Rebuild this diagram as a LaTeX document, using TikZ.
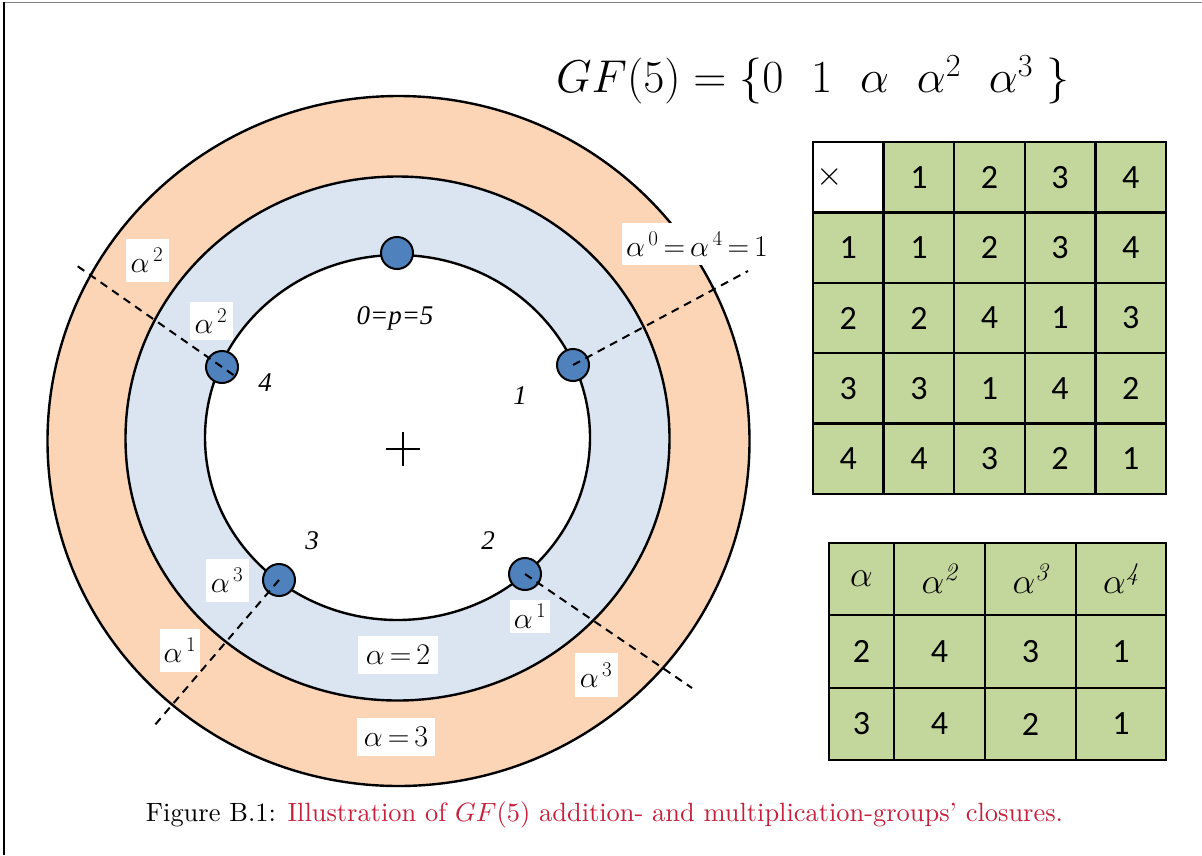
\RequirePackage{fix-cm}
\documentclass[tikz,border=0pt]{standalone}
\usepackage{fontspec}
\newfontfamily\timesfont{Liberation Serif}
\newfontfamily\tabfont{Carlito}
\usetikzlibrary{calc}
\definecolor{ringO}{HTML}{FBD5B5}
\definecolor{ringB}{HTML}{DBE5F1}
\definecolor{dotB}{HTML}{4F81BD}
\definecolor{cellG}{HTML}{C3D69B}
\definecolor{capred}{HTML}{C8203C}
\begin{document}
\begin{tikzpicture}[x=1pt,y=-1pt,
  ring/.style={draw=black, line width=2.4pt},
  dotnode/.style={circle, draw=black, line width=2pt, fill=dotB, minimum size=32pt, inner sep=0pt},
  dashline/.style={draw=black, line width=2pt, dash pattern=on 8pt off 6pt},
  lab/.style={fill=white, inner sep=0pt, font=\fontsize{30}{30}\selectfont},
  num/.style={inner sep=0pt, font=\timesfont\itshape\fontsize{27}{27}\selectfont},
  cell/.style={draw=black, line width=2.4pt, fill=cellG, minimum width=70.6pt, minimum height=70.4pt, inner sep=0pt, font=\tabfont\fontsize{34}{34}\selectfont},
  cellb/.style={draw=black, line width=2.4pt, fill=cellG, minimum height=72.5pt, inner sep=0pt, font=\tabfont\fontsize{34}{34}\selectfont}
]
\useasboundingbox (0,0) rectangle (1202,855);
\fill[white] (0,0) rectangle (1202,855);
% frame remnants
\draw[gray, line width=1pt] (4,2.5) -- (1202,2.5);
\draw[black, line width=1.3pt] (4,2) -- (4,855);

% title
\node (title) at (813,80) {\fontsize{46}{50}\selectfont $GF(5)=\{0\ \ 1\ \ \alpha\ \ \alpha^2\ \ \alpha^3\ \}$};

% rings
\draw[ring, fill=ringO] (398.5,441) ellipse [x radius=351, y radius=345];
\draw[ring, fill=ringB] (397.5,438.5) ellipse [x radius=272, y radius=262];
\draw[ring, fill=white] (397.5,437.5) ellipse [x radius=192.5, y radius=182.5];

% centre cross
\draw[line width=1.8pt] (386,449) -- (420,449);
\draw[line width=1.8pt] (403,432) -- (403,466);

% dots
\node[dotnode] (d0) at (397,253) {};
\node[dotnode] (d1) at (573,365) {};
\node[dotnode] (d2) at (525,574) {};
\node[dotnode] (d3) at (279,580) {};
\node[dotnode] (d4) at (222,367) {};

% dashed rays
\coordinate (e1) at (748,271);
\coordinate (e2) at (692,688);
\coordinate (e3) at (154,726);
\coordinate (e4) at (73,263);
\draw[dashline] (d1.center) -- (e1);
\draw[dashline] (d2.center) -- (e2);
\draw[dashline] (d3.center) -- (e3);
\draw[dashline] ($(d4.center)!-14pt!(e4)$) -- (e4);

% residue labels
\node[num] (n0) at (395,318) {0=p=5};
\node[num] (n1) at (520,396) {1};
\node[num] (n2) at (488,541) {2};
\node[num] (n3) at (312,541) {3};
\node[num] (n4) at (265,383) {4};

% power labels
\node[lab, minimum width=43pt, minimum height=43pt] (a2o) at (147,260) {$\alpha^{\,2}$};
\node[lab, minimum width=43pt, minimum height=38pt] (a2i) at (211,321) {$\alpha^{\,2}$};
\node[lab, minimum width=151pt, minimum height=42pt] (a0) at (697,244) {$\alpha^{\,0}\,{=}\,\alpha^{\,4}\,{=}\,1$};
\node[lab, minimum width=43pt, minimum height=43pt] (a3i) at (227,580) {$\alpha^{\,3}$};
\node[lab, minimum width=40pt, minimum height=43pt] (a1o) at (180,650) {$\alpha^{\,1}$};
\node[lab, minimum width=40pt, minimum height=33pt] (a1i) at (530,616) {$\alpha^{\,1}$};
\node[lab, minimum width=43pt, minimum height=44pt] (a3o) at (596,675) {$\alpha^{\,3}$};
\node[lab, minimum width=80pt, minimum height=38pt] (al2) at (398,655) {$\alpha\,{=}\,2$};
\node[lab, minimum width=78pt, minimum height=38pt] (al3) at (396,737) {$\alpha\,{=}\,3$};

% multiplication table
\foreach \r [count=\i from 0] in {{,1,2,3,4},{1,1,2,3,4},{2,2,4,1,3},{3,3,1,4,2},{4,4,3,2,1}} {
  \foreach \v [count=\j from 0] in \r {
    \node[cell] (m-\i-\j) at ({813+35.3+70.6*\j},{142+35.2+70.4*\i}) {\v};
  }
}
\node[cell, fill=white] (m-0-0) at (848.3,177.2) {};
\node[inner sep=0pt, font=\fontsize{34}{34}\selectfont] (times) at (830,177) {$\times$};

% power table
\node[cellb, minimum width=65pt] (p-0-0) at (861.5,579) {\fontsize{36}{36}\selectfont$\alpha$};
\node[cellb, minimum width=91pt] (p-0-1) at (939.5,579) {\fontsize{36}{36}\selectfont$\alpha^{\mathit{2}}$};
\node[cellb, minimum width=91pt] (p-0-2) at (1030.5,579) {\fontsize{36}{36}\selectfont$\alpha^{\mathit{3}}$};
\node[cellb, minimum width=90pt] (p-0-3) at (1121,579) {\fontsize{36}{36}\selectfont$\alpha^{\mathit{4}}$};
\node[cellb, minimum width=65pt] (p-1-0) at (861.5,651.5) {2};
\node[cellb, minimum width=91pt] (p-1-1) at (939.5,651.5) {4};
\node[cellb, minimum width=91pt] (p-1-2) at (1030.5,651.5) {3};
\node[cellb, minimum width=90pt] (p-1-3) at (1121,651.5) {1};
\node[cellb, minimum width=65pt] (p-2-0) at (861.5,724) {3};
\node[cellb, minimum width=91pt] (p-2-1) at (939.5,724) {4};
\node[cellb, minimum width=91pt] (p-2-2) at (1030.5,724) {2};
\node[cellb, minimum width=90pt] (p-2-3) at (1121,724) {1};

% caption
\node (cap) at (604.5,815) {\resizebox{917pt}{!}{\fontsize{10}{12}\selectfont Figure B.1: \textcolor{capred}{Illustration of $GF(5)$ addition- and multiplication-groups' closures.}}};
\end{tikzpicture}
\end{document}
